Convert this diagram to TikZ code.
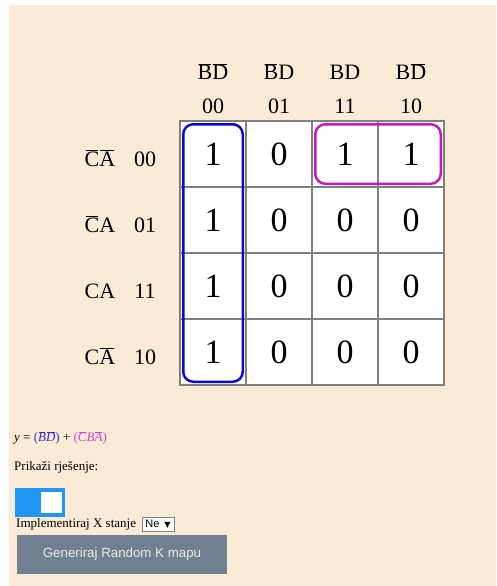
\documentclass[tikz,border=0pt]{standalone}
\usepackage{fontspec}
\setmainfont{Liberation Serif}
\newfontfamily\btnfont{Liberation Sans}
\newfontfamily\symfont{DejaVu Sans}
\usetikzlibrary{fit}

\definecolor{pagebg}{HTML}{FAEBD7}
\definecolor{cellgray}{HTML}{808080}
\definecolor{grpblue}{HTML}{0A0ACC}
\definecolor{grpmag}{HTML}{C21AC2}
\definecolor{eqblue}{HTML}{3030D0}
\definecolor{eqmag}{HTML}{D040D0}
\definecolor{toggleblue}{HTML}{2196F3}
\definecolor{btngray}{HTML}{708090}

% letter with its own (slightly shortened) bar
\newcommand{\nb}[1]{\kern.05em$\overline{\mbox{\kern-.05em#1\kern-.05em}}$\kern.05em}

\begin{document}
\begin{tikzpicture}[x=1pt, y=-1pt,
    cell/.style={draw=cellgray, line width=1.5pt, fill=white, minimum size=66pt, inner sep=0pt, font=\fontsize{34}{34}\selectfont},
    hdr/.style={inner sep=0pt, anchor=base, font=\fontsize{22}{22}\selectfont},
    grp/.style={line width=2.5pt, rounded corners=10pt, inner sep=-4pt},
    small/.style={inner sep=0pt, anchor=west, font=\fontsize{13}{15}\selectfont}]
    \useasboundingbox (0,0) rectangle (496,586);
    \fill[white] (0,0) rectangle (496,586);
    \fill[pagebg] (9,5) rectangle (496,586);

    % K-map cells
    \foreach \vals [count=\r from 0] in {{1,0,1,1},{1,0,0,0},{1,0,0,0},{1,0,0,0}}
        \foreach \v [count=\c from 0] in \vals
            \node[cell] (c\r\c) at ({213+66*\c},{154+66*\r}) {\v};

    % column headers
    \foreach \lab/\bits [count=\c from 0] in {{\nb{B}\nb{D}}/00, {\nb{B}D}/01, {BD}/11, {B\nb{D}}/10} {
        \node[hdr] (h\c) at ({213+66*\c},80) {\lab};
        \node[hdr] (b\c) at ({213+66*\c},113) {\bits};
    }

    % row headers
    \foreach \lab/\bits [count=\r from 0] in {{\nb{C}\nb{A}}/00, {\nb{C}A}/01, {CA}/11, {C\nb{A}}/10} {
        \node[hdr] (rl\r) at (100,{166+66*\r}) {\lab};
        \node[hdr] (rb\r) at (145,{166+66*\r}) {\bits};
    }

    % groups
    \node[grp, draw=grpblue, fit=(c00)(c30)] (gblue) {};
    \node[grp, draw=grpmag, fit=(c02)(c03)] (gmag) {};

    % controls below the map
    \node[small] (eq) at (14,438) {\textit{y} = \textcolor{eqblue}{(\textit{\nb{B}\nb{D}})} + \textcolor{eqmag}{(\textit{\nb{C}B\nb{A}})}};
    \node[small] (prikazi) at (14,467) {Prikaži rješenje:};
    \node[fill=toggleblue, minimum width=50pt, minimum height=29pt, inner sep=0pt] (toggle) at (40,502.5) {};
    \node[fill=white, minimum size=21pt, inner sep=0pt] (knob) at (51,502.5) {};
    \node[small] (impl) at (16,524) {Implementiraj X stanje};
    \node[draw=cellgray, fill=white, line width=0.6pt, minimum width=32pt, minimum height=14pt, inner sep=0pt, font=\btnfont\fontsize{11}{12}\selectfont] (ne) at (158,524) {Ne\, {\symfont\fontsize{8}{9}\selectfont▼}};
    \node[fill=btngray, minimum width=210pt, minimum height=39pt, inner sep=0pt, text=white!92!black, font=\btnfont\fontsize{13.3}{15}\selectfont] (btn) at (122,554.5) {Generiraj Random K mapu};
\end{tikzpicture}
\end{document}
